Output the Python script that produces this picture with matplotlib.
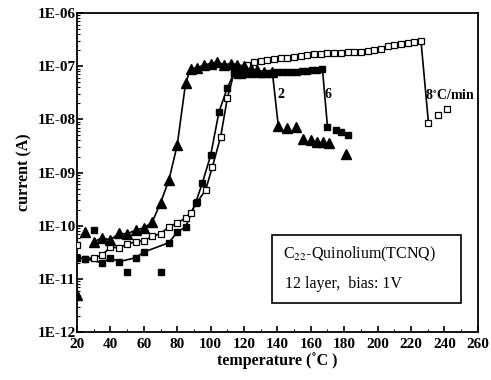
import numpy as np
import matplotlib
matplotlib.use("Agg")
import matplotlib.pyplot as plt
from matplotlib.ticker import LogLocator, FixedLocator, NullFormatter
from matplotlib.patches import Rectangle

plt.rcParams['font.family'] = ['Liberation Serif', 'DejaVu Serif']
plt.rcParams['mathtext.fontset'] = 'stix'

# ---- data: 2 C/min (filled triangles) ----
tri_T = [20, 25, 30, 35, 40, 45, 50, 55, 60, 65, 70, 75, 80, 85, 88, 92, 96, 100,
         104, 108, 112, 116, 120, 124, 128, 132, 137, 140.5, 146, 151, 155.5, 160, 164, 167.5, 171, 181]
tri_I = [5e-12, 7.6e-11, 5.0e-11, 5.9e-11, 5.4e-11, 7.2e-11, 7.0e-11, 8.3e-11, 9.1e-11, 1.17e-10,
         2.7e-10, 7.2e-10, 3.3e-09, 4.8e-08, 8.9e-08, 9.3e-08, 1.05e-07, 1.12e-07,
         1.2e-07, 1.05e-07, 1.12e-07, 1.07e-07, 1.0e-07, 8.9e-08, 8.3e-08, 7.9e-08, 7.6e-08,
         7.6e-09, 6.9e-09, 7.2e-09, 4.3e-09, 4.1e-09, 3.8e-09, 3.8e-09, 3.6e-09, 2.2e-09]
tri_line = list(range(2, 28))          # points joined by the drawn line

# ---- data: 6 C/min (filled squares) ----
fsq_T = [20, 25, 30, 35, 40, 45, 50, 55, 60, 70, 75, 80, 85, 91, 95, 100, 105, 110, 114,
         116, 119, 122, 125, 128, 131, 134, 137, 140, 143, 146, 149, 152, 155, 158, 161, 164, 167,
         170, 175, 178, 182]
fsq_I = [2.5e-11, 2.4e-11, 8.3e-11, 2.0e-11, 2.5e-11, 2.1e-11, 1.35e-11, 2.5e-11, 3.2e-11,
         1.35e-11, 4.8e-11, 7.6e-11, 9.5e-11, 2.7e-10, 6.3e-10, 2.1e-09, 1.38e-08, 3.9e-08, 7.4e-08,
         6.9e-08, 6.9e-08, 7.1e-08, 7.1e-08, 7.2e-08, 7.2e-08, 7.4e-08, 7.4e-08, 7.6e-08,
         7.6e-08, 7.8e-08, 7.8e-08, 7.9e-08, 8.1e-08, 8.1e-08, 8.3e-08, 8.5e-08, 8.7e-08,
         7.2e-09, 6.3e-09, 5.8e-09, 5.1e-09]
fsq_line = [0, 1, 3, 4, 5, 7, 8] + list(range(10, 38))

# ---- data: 8 C/min (open squares) ----
osq_T = [20, 25, 30, 35, 40, 45, 50, 55, 60, 65, 70, 75, 80, 85, 88, 92, 97, 101, 106, 110, 114,
         118, 122, 126, 130, 134, 138, 142, 146, 150, 154, 158, 162, 166, 170, 174, 178, 182,
         186, 190, 194, 198, 202, 206, 210, 214, 218, 222, 226, 230.5, 236, 241.5]
osq_I = [4.4e-11, 2.4e-11, 2.5e-11, 2.8e-11, 4.0e-11, 3.8e-11, 4.5e-11, 5.0e-11, 5.2e-11,
         6.3e-11, 7.1e-11, 9.5e-11, 1.12e-10, 1.41e-10, 1.74e-10, 2.8e-10, 4.7e-10, 1.26e-09,
         4.7e-09, 2.5e-08, 7.4e-08,
         8.9e-08, 1.05e-07, 1.17e-07, 1.26e-07, 1.32e-07, 1.38e-07, 1.41e-07, 1.45e-07, 1.51e-07,
         1.58e-07, 1.62e-07, 1.66e-07, 1.70e-07, 1.74e-07, 1.78e-07, 1.78e-07, 1.82e-07,
         1.86e-07, 1.86e-07, 1.95e-07, 2.04e-07, 2.14e-07, 2.34e-07, 2.45e-07, 2.63e-07,
         2.75e-07, 2.82e-07, 2.95e-07, 8.5e-09, 1.2e-08, 1.58e-08]
osq_line = list(range(1, 50))

x_ticks = [20, 40, 60, 80, 100, 120, 140, 160, 180, 200, 220, 240, 260]
y_ticks = [1e-12, 1e-11, 1e-10, 1e-09, 1e-08, 1e-07, 1e-06]
y_labels = ['1E-12', '1E-11', '1E-10', '1E-09', '1E-08', '1E-07', '1E-06']

fig = plt.figure(figsize=(4.91, 3.80), dpi=100)
ax = fig.add_axes([0.157, 0.126, 0.816, 0.840])

def pick(arr, idx):
    return [arr[i] for i in idx]

ax.plot(pick(osq_T, osq_line), pick(osq_I, osq_line), color='black', lw=1.2, zorder=2)
ax.plot(pick(fsq_T, fsq_line), pick(fsq_I, fsq_line), color='black', lw=1.2, zorder=2)
ax.plot(pick(tri_T, tri_line), pick(tri_I, tri_line), color='black', lw=1.2, zorder=2)

ax.plot(osq_T, osq_I, ls='none', marker='s', ms=5, mfc='white', mec='black', mew=0.9, zorder=3)
ax.plot(fsq_T, fsq_I, ls='none', marker='s', ms=5, mfc='black', mec='black', zorder=4)
ax.plot(tri_T, tri_I, ls='none', marker='^', ms=7, mfc='black', mec='black', zorder=5)

ax.set_yscale('log')
ax.set_xlim(20, 260)
ax.set_ylim(1e-12, 1e-6)
ax.xaxis.set_major_locator(FixedLocator(x_ticks))
ax.xaxis.set_minor_locator(FixedLocator(np.arange(30, 260, 20)))
ax.yaxis.set_major_locator(FixedLocator(y_ticks))
ax.set_yticklabels(y_labels)
ax.yaxis.set_minor_locator(LogLocator(base=10, subs=np.arange(2, 10)))
ax.yaxis.set_minor_formatter(NullFormatter())
ax.tick_params(axis='both', which='major', direction='in', length=4, width=1.2,
               labelsize=11, top=False, right=False)
ax.tick_params(axis='both', which='minor', direction='in', length=2, width=0.8,
               top=False, right=False)
for lab in ax.get_xticklabels() + ax.get_yticklabels():
    lab.set_fontweight('bold')
ax.tick_params(axis='y', pad=1)
ax.tick_params(axis='x', pad=4)
for s in ax.spines.values():
    s.set_linewidth(1.3)

ax.set_xlabel('temperature (˚C )', fontsize=11.5, fontweight='bold', labelpad=1)
ax.set_ylabel('current (A)', fontsize=11.5, fontweight='bold', labelpad=4)

ax.text(140, 2.9e-08, '2', fontsize=10, fontweight='bold', ha='left', va='center')
ax.text(168, 2.9e-08, '6', fontsize=10, fontweight='bold', ha='left', va='center')
ax.text(228.5, 2.9e-08, r'8$^{\circ}$C/min', fontsize=10, fontweight='bold', ha='left', va='center')

box = Rectangle((0.487, 0.090), 0.470, 0.215, transform=ax.transAxes, fill=False,
                edgecolor='black', lw=1.2, zorder=6)
ax.add_patch(box)
ax.text(0.515, 0.245, r'C$_{22}$-Quinolium(TCNQ)', transform=ax.transAxes, fontsize=11.5,
        ha='left', va='center')
ax.text(0.52, 0.150, '12 layer,  bias: 1V', transform=ax.transAxes, fontsize=11.5,
        ha='left', va='center')

fig.savefig('out.png', dpi=100)
